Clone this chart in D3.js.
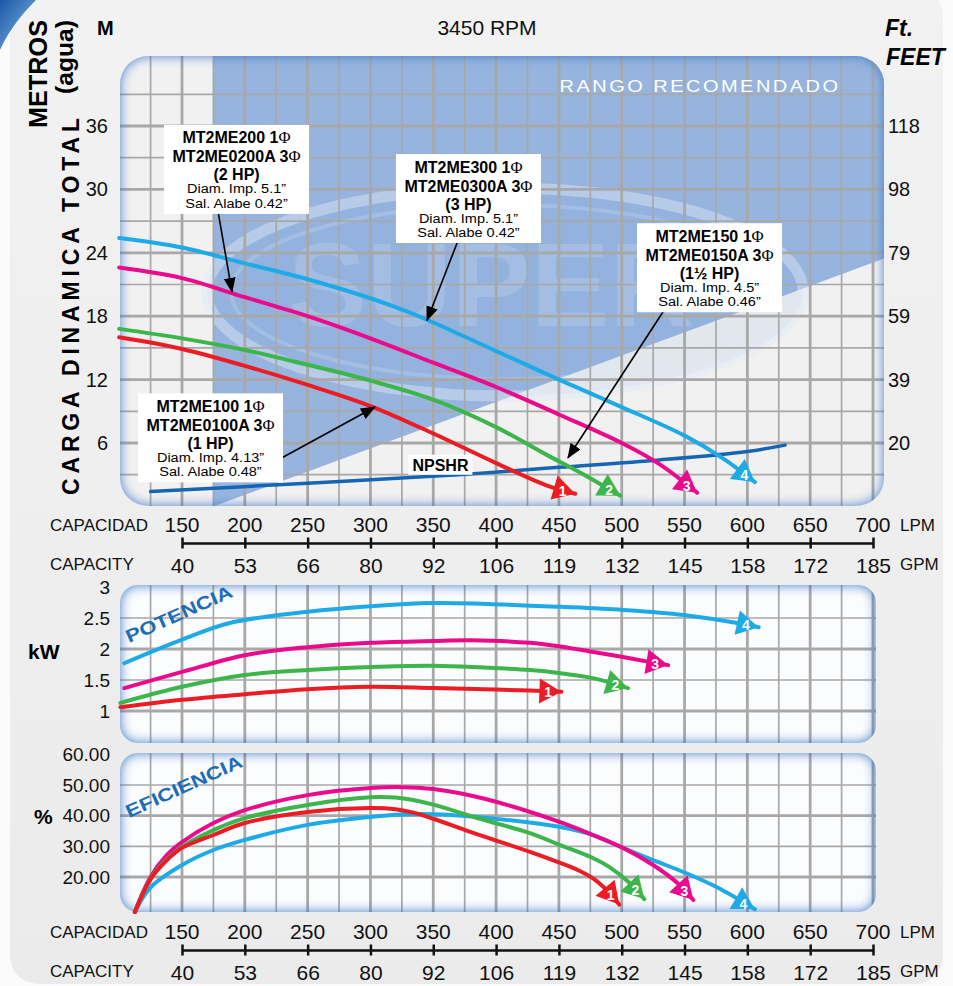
<!DOCTYPE html>
<html><head><meta charset="utf-8">
<script src="https://cdn.jsdelivr.net/npm/d3@7"></script>
<style>
body{margin:0;background:#fff}
svg{display:block}
text{font-family:"Liberation Sans",Arial,sans-serif}
</style>
</head><body>
<svg id="c" width="953" height="986"></svg>
<script>
// ---------------- DATA ----------------
const lpmTicks = [150,200,250,300,350,400,450,500,550,600,650,700];
const gpmLabels = ["40","53","66","80","92","106","119","132","145","158","172","185"];
const meterTicks = [6,12,18,24,30,36];
const feetLabels = ["20","39","59","79","98","118"];
const kwTicks = [1,1.5,2,2.5,3];
const effTicks = [20,30,40,50,60];
const curveIds = ["1","2","3","4"];

// Head (m) vs flow (LPM)
const head1 = [[100,16.0],[150,14.9],[200,13.3],[250,11.5],[300,9.5],[350,6.9],[400,4.1],[440,2.0],[463,1.2]];
const head2 = [[100,16.8],[150,15.9],[200,14.8],[250,13.4],[300,11.9],[350,10.1],[400,7.5],[440,4.9],[470,3.0],[499,1.0]];
const head3 = [[100,22.6],[150,21.6],[200,19.8],[250,18.0],[300,15.9],[350,13.6],[400,11.3],[450,8.7],[500,6.0],[530,4.0],[560,1.3]];
const head4 = [[100,25.4],[150,24.5],[200,23.0],[250,21.5],[300,19.7],[330,18.4],[350,17.4],[400,14.7],[450,12.0],[500,9.4],[550,6.7],[580,4.6],[606,2.3]];
const npshr = [[125,1.4],[250,2.2],[370,3.0],[450,3.7],[530,4.4],[600,5.2],[630,5.8]];

// Power (kW) vs flow (LPM)
const power1 = [[101,1.06],[150,1.18],[200,1.27],[250,1.35],[300,1.39],[350,1.37],[390,1.35],[427,1.33],[452,1.31]];
const power2 = [[101,1.13],[150,1.39],[200,1.58],[250,1.66],[300,1.71],[350,1.73],[390,1.70],[427,1.66],[451,1.61],[477,1.53],[505,1.37]];
const power3 = [[104,1.37],[150,1.63],[200,1.90],[250,2.03],[300,2.10],[350,2.13],[380,2.14],[427,2.10],[451,2.04],[475,1.96],[501,1.87],[525,1.78],[537,1.74]];
const power4 = [[104,1.77],[150,2.15],[188,2.42],[250,2.60],[300,2.69],[350,2.74],[388,2.73],[451,2.68],[501,2.63],[549,2.55],[600,2.39],[609,2.35]];

// Efficiency (%) vs flow (LPM)
const eff1 = [[112.5,8.6],[124.5,19.0],[138,25.5],[150,29.5],[175,33.7],[200,37.6],[250,41.2],[300,42.5],[320,42.1],[335,40.9],[350,39.0],[380,34.6],[427,28.2],[451,24.6],[465,22.3],[478,19.3],[490,14.9],[498,11.0]];
const eff2 = [[112.5,8.6],[124.5,19.2],[138,25.8],[150,29.8],[175,35.3],[200,39.2],[250,43.5],[300,46.0],[320,45.9],[335,45.0],[350,43.6],[388,38.9],[427,34.3],[451,30.4],[477,26.2],[490,23.3],[505,18.5],[518,12.8]];
const eff3 = [[112.5,8.6],[124.5,19.7],[138,27.2],[150,31.4],[175,37.6],[200,41.8],[250,46.7],[300,49.0],[325,49.3],[350,48.7],[390,45.6],[451,37.9],[477,33.7],[501,29.5],[525,23.9],[545,17.8],[557,12.5]];
const eff4 = [[112.5,8.6],[124.5,16.4],[150,23.9],[175,28.8],[200,32.1],[250,37.0],[300,39.6],[325,40.4],[350,40.5],[385,39.6],[451,36.3],[477,33.7],[501,29.5],[525,25.5],[551,21.3],[577,16.4],[606,9.5]];

// Recommended range (LPM, m)
const rangeArea = [[175,0],[712,23.6],[712,46],[175,46]];

// Annotations: box centre flow, box top head, arrow from/to (LPM, m)
const notes = [
  {lines:["MT2ME200 1","MT2ME0200A 3","(2 HP)","Diam. Imp. 5.1”","Sal. Alabe 0.42”"], cx:193.4, top:36.1, from:[178.7,27.9], to:[189.8,20.3]},
  {lines:["MT2ME300 1","MT2ME0300A 3","(3 HP)","Diam. Imp. 5.1”","Sal. Alabe 0.42”"], cx:378.0, top:33.35, from:[370.5,25.4], to:[345.0,17.6]},
  {lines:["MT2ME150 1","MT2ME0150A 3","(1½ HP)","Diam. Imp. 4.5”","Sal. Alabe 0.46”"], cx:569.9, top:26.8, from:[532.8,18.4], to:[457.2,4.6]},
  {lines:["MT2ME100 1","MT2ME0100A 3","(1 HP)","Diam. Imp. 4.13”","Sal. Alabe 0.48”"], cx:172.7, top:10.7, from:[229.6,4.6], to:[303.6,9.4]}
];
const npshrLabelAt = [355.7,3.94];

// ---------------- STYLE / LAYOUT ----------------
const colors = {"1":"#ec1c24","2":"#3cb54a","3":"#ec0a8c","4":"#1eaae7"};
const npshrColor = "#1565b3";
const gridColor = "#a8a8a8";
const numFont = '"Liberation Sans Narrow","Arial Narrow","Liberation Sans",Arial,sans-serif';

const x = d3.scaleLinear().domain([150,700]).range([182,873]);
const yH = d3.scaleLinear().domain([6,36]).range([443,126]);
const yP = d3.scaleLinear().domain([1,2.5]).range([711,618]);
const yE = d3.scaleLinear().domain([20,50]).range([877,785]);

const svg = d3.select('#c');
const defs = svg.append('defs');

const bgG = defs.append('linearGradient').attr('id','bgG').attr('x1',0).attr('y1',0).attr('x2',0).attr('y2',1);
bgG.append('stop').attr('offset',0).attr('stop-color','#f2f2f2');
bgG.append('stop').attr('offset',1).attr('stop-color','#ebebeb');
const swG = defs.append('linearGradient').attr('id','swG').attr('x1',0).attr('y1',0).attr('x2',1).attr('y2',1);
swG.append('stop').attr('offset',0).attr('stop-color','#1a58a6');
swG.append('stop').attr('offset',1).attr('stop-color','#8dbbe9');

const glow = defs.append('filter').attr('id','glow').attr('x','-10%').attr('y','-30%').attr('width','120%').attr('height','160%');
glow.append('feFlood').attr('flood-color','#3b76c6').attr('result','c');
glow.append('feComposite').attr('in','c').attr('in2','SourceAlpha').attr('operator','out').attr('result','o');
glow.append('feGaussianBlur').attr('in','o').attr('stdDeviation',6).attr('result','b');
glow.append('feComposite').attr('in','b').attr('in2','SourceAlpha').attr('operator','in');

defs.append('marker').attr('id','ah').attr('markerUnits','userSpaceOnUse')
  .attr('markerWidth',16).attr('markerHeight',12).attr('refX',14).attr('refY',6).attr('orient','auto')
  .append('path').attr('d','M0,0L15,6L0,12Z').attr('fill','#000');

svg.append('rect').attr('width',953).attr('height',986).attr('fill','#fbfbfb');
svg.append('rect').attr('x',10).attr('y',-12).attr('width',933).attr('height',996).attr('rx',28).attr('fill','url(#bgG)');
svg.append('path').attr('d','M0,0L36,0C24,12 10,28 0,50Z').attr('fill','url(#swG)');

const smooth = d3.curveCatmullRom.alpha(0.5);

function makePanel(id, p) {
  defs.append('clipPath').attr('id',id).append('rect')
    .attr('x',p.x0).attr('y',p.y0).attr('width',p.x1-p.x0).attr('height',p.y1-p.y0).attr('rx',p.r);
  const g = svg.append('g');
  g.append('rect').attr('x',p.x0).attr('y',p.y0).attr('width',p.x1-p.x0).attr('height',p.y1-p.y0)
    .attr('rx',p.r).attr('fill',p.fill);
  const inner = g.append('g').attr('clip-path',`url(#${id})`);
  return {g, inner, p};
}
function addGlow(P, op) {
  const p = P.p;
  P.g.append('rect').attr('x',p.x0).attr('y',p.y0).attr('width',p.x1-p.x0).attr('height',p.y1-p.y0)
    .attr('rx',p.r).attr('fill','#000').attr('filter','url(#glow)').attr('opacity',op);
}
function grid(P, vx, hy, ys, majorX, majorY) {
  const p = P.p;
  P.inner.selectAll(null).data(vx).join('line')
    .attr('x1',d=>x(d)).attr('x2',d=>x(d)).attr('y1',p.y0).attr('y2',p.y1)
    .attr('stroke',gridColor).attr('stroke-width',d=>majorX(d)?2.8:1.7);
  P.inner.selectAll(null).data(hy).join('line')
    .attr('y1',d=>ys(d)).attr('y2',d=>ys(d)).attr('x1',p.x0).attr('x2',p.x1)
    .attr('stroke',gridColor).attr('stroke-width',d=>majorY(d)?2.8:1.7);
}
function drawCurve(g, pts, ys, color, w) {
  g.append('path').datum(pts)
    .attr('d', d3.line().x(d=>x(d[0])).y(d=>ys(d[1])).curve(smooth))
    .attr('fill','none').attr('stroke',color).attr('stroke-width',w||4).attr('stroke-linecap','round');
}
function endMarker(g, pts, ys, color, label) {
  const n = pts.length;
  const a = [x(pts[n-2][0]), ys(pts[n-2][1])], b = [x(pts[n-1][0]), ys(pts[n-1][1])];
  let dx = b[0]-a[0], dy = b[1]-a[1]; const L = Math.hypot(dx,dy); dx/=L; dy/=L;
  const len = 22, hw = 12.5;
  const bc = [b[0]-dx*len, b[1]-dy*len];
  const p1 = [bc[0]-dy*hw, bc[1]+dx*hw], p2 = [bc[0]+dy*hw, bc[1]-dx*hw];
  g.append('path').attr('d',`M${b[0]},${b[1]}L${p1[0]},${p1[1]}L${p2[0]},${p2[1]}Z`).attr('fill',color);
  g.append('text').attr('x',b[0]-dx*len*0.6).attr('y',b[1]-dy*len*0.6+1)
    .attr('text-anchor','middle').attr('dominant-baseline','central')
    .attr('font-size',14).attr('font-weight','bold').attr('fill','#fff').text(label);
}

// ---------------- MAIN PANEL ----------------
const mainP = makePanel('clipMain', {x0:120,y0:56,x1:884,y1:506,r:28,fill:'#f1f1f2'});
mainP.inner.append('path').datum(rangeArea)
  .attr('d', d3.line().x(d=>x(d[0])).y(d=>yH(d[1])))
  .attr('fill','#97b4de');
const wm = mainP.inner.append('g');
wm.append('ellipse').attr('cx',505).attr('cy',292).attr('rx',298).attr('ry',104)
  .attr('fill','#7fa4d8').attr('fill-opacity',0.12).attr('stroke','#dfe8f6').attr('stroke-opacity',0.45).attr('stroke-width',11);
wm.append('ellipse').attr('cx',505).attr('cy',292).attr('rx',274).attr('ry',87)
  .attr('fill','none').attr('stroke','#dfe8f6').attr('stroke-opacity',0.22).attr('stroke-width',4);
wm.append('text').attr('x',288).attr('y',326).attr('font-size',118).attr('font-weight','bold')
  .attr('fill','#dfe8f6').attr('fill-opacity',0.22).text('SUPER');

grid(mainP, d3.range(125,701,25), d3.range(3,40,3), yH, d=>d%50===0, d=>d%6===0);
addGlow(mainP, 0.9);

svg.append('text').attr('x',700).attr('y',92).attr('text-anchor','middle')
  .attr('font-family','"DejaVu Sans",sans-serif').attr('font-size',16).attr('fill','#fff')
  .attr('textLength',281).attr('lengthAdjust','spacingAndGlyphs').attr('letter-spacing',2).text('RANGO RECOMENDADO');

const mg = svg.append('g');
drawCurve(mg, npshr, yH, npshrColor, 3.5);
const heads = {"1":head1,"2":head2,"3":head3,"4":head4};
["4","3","2","1"].forEach(k=>drawCurve(mg, heads[k], yH, colors[k]));
curveIds.forEach(k=>endMarker(mg, heads[k], yH, colors[k], k));

const nl = svg.append('g').attr('transform',`translate(${x(npshrLabelAt[0])},${yH(npshrLabelAt[1])})`);
nl.append('rect').attr('x',-32).attr('y',-10).attr('width',64).attr('height',20).attr('fill','#fff');
nl.append('text').attr('text-anchor','middle').attr('y',6).attr('font-size',16).attr('font-weight','bold').text('NPSHR');

const lineOff = [12.5,31.5,50,64.5,79];
notes.forEach(n=>{
  const w = 145, h = 89;
  const cx = x(n.cx), top = yH(n.top);
  svg.append('line').attr('x1',x(n.from[0])).attr('y1',yH(n.from[1])).attr('x2',x(n.to[0])).attr('y2',yH(n.to[1]))
    .attr('stroke','#000').attr('stroke-width',1.6).attr('marker-end','url(#ah)');
  const g = svg.append('g');
  g.append('rect').attr('x',cx-w/2).attr('y',top).attr('width',w).attr('height',h).attr('fill','#fff');
  n.lines.forEach((t,i)=>{
    const tx = g.append('text').attr('x',cx).attr('y',top+lineOff[i]).attr('text-anchor','middle')
      .attr('dominant-baseline','central');
    if (i<2) {
      tx.attr('font-size',16).attr('font-weight','bold');
      tx.append('tspan').text(t);
      tx.append('tspan').attr('font-family','"Liberation Serif",serif').attr('font-weight','normal').attr('font-size',16.5).text('Φ');
    } else if (i===2) {
      tx.attr('font-size',16).attr('font-weight','bold').text(t);
    } else {
      tx.attr('font-size',12.5).text(t);
      const wdt = tx.node().getComputedTextLength();
      tx.attr('textLength',wdt*1.16).attr('lengthAdjust','spacingAndGlyphs');
    }
  });
});

const axL = svg.append('g').attr('transform','translate(111,0)')
  .call(d3.axisLeft(yH).tickValues(meterTicks).tickSize(0).tickPadding(3));
const axR = svg.append('g').attr('transform','translate(885,0)')
  .call(d3.axisRight(yH).tickValues(meterTicks).tickSize(0).tickPadding(3).tickFormat((d,i)=>feetLabels[i]));
[axL,axR].forEach(a=>{a.select('.domain').remove(); a.selectAll('text').attr('font-size',20).attr('fill','#111');});

// ---------------- CAPACITY AXES ----------------
function capAxis(yLine) {
  const g = svg.append('g').attr('transform',`translate(0,${yLine})`);
  g.call(d3.axisBottom(x).tickValues(lpmTicks).tickSizeInner(5).tickSizeOuter(0).tickPadding(0).tickFormat((d,i)=>gpmLabels[i]));
  g.select('.domain').attr('stroke','#111').attr('stroke-width',2.5);
  g.selectAll('.tick line').attr('y1',-5.5).attr('y2',5.5).attr('stroke','#111').attr('stroke-width',2.5);
  g.selectAll('.tick text').attr('y',30).attr('dy',null).attr('font-size',21).attr('font-family',numFont).attr('fill','#111');
  g.selectAll(null).data(lpmTicks).join('text').attr('x',d=>x(d)).attr('y',-11)
    .attr('text-anchor','middle').attr('font-size',21).attr('font-family',numFont).attr('fill','#111').text(d=>d);
  const lab = (t,xx,yy)=>g.append('text').attr('x',xx).attr('y',yy).attr('text-anchor','start')
    .attr('font-size',17).attr('fill','#111').text(t);
  lab('CAPACIDAD',50,-12.5); lab('CAPACITY',50,26.5); lab('LPM',900,-12.5); lab('GPM',900,26.5);
}
capAxis(543);
capAxis(950);

// ---------------- POWER PANEL ----------------
const powP = makePanel('clipPow', {x0:120,y0:585,x1:876,y1:743,r:18,fill:'#fbfcfe'});
grid(powP, d3.range(125,701,25), [1,1.5,2,2.5], yP, d=>d%50===0, d=>d%1===0);
addGlow(powP, 0.95);
const pg = svg.append('g');
const powers = {"1":power1,"2":power2,"3":power3,"4":power4};
["4","3","2","1"].forEach(k=>drawCurve(pg, powers[k], yP, colors[k]));
curveIds.forEach(k=>endMarker(pg, powers[k], yP, colors[k], k));
const axP = svg.append('g').attr('transform','translate(113,0)')
  .call(d3.axisLeft(yP).tickValues(kwTicks).tickSize(0).tickPadding(3).tickFormat(d=>String(d)));
axP.select('.domain').remove();
axP.selectAll('text').attr('font-size',19).attr('fill','#111');
svg.append('text').attr('x',28).attr('y',659).attr('font-size',21).attr('font-weight','bold').text('kW');
svg.append('text').attr('transform','translate(129,643) rotate(-24)').attr('font-size',18).attr('font-weight','bold')
  .attr('fill','#1c6cb6').attr('textLength',115).attr('lengthAdjust','spacingAndGlyphs').text('POTENCIA');

// ---------------- EFFICIENCY PANEL ----------------
const effP = makePanel('clipEff', {x0:120,y0:753,x1:876,y1:912,r:18,fill:'#fbfcfe'});
grid(effP, d3.range(125,701,25), [20,30,40,50], yE, d=>d%50===0, d=>d%20===0);
addGlow(effP, 0.95);
const eg = svg.append('g');
const effs = {"1":eff1,"2":eff2,"3":eff3,"4":eff4};
["4","3","2","1"].forEach(k=>drawCurve(eg, effs[k], yE, colors[k]));
curveIds.forEach(k=>endMarker(eg, effs[k], yE, colors[k], k));
const axE = svg.append('g').attr('transform','translate(113,0)')
  .call(d3.axisLeft(yE).tickValues(effTicks).tickSize(0).tickPadding(3).tickFormat(d=>d.toFixed(2)));
axE.select('.domain').remove();
axE.selectAll('text').attr('font-size',19).attr('fill','#111');
svg.append('text').attr('x',34).attr('y',824).attr('font-size',21).attr('font-weight','bold').text('%');
svg.append('text').attr('transform','translate(129,818) rotate(-24.3)').attr('font-size',18).attr('font-weight','bold')
  .attr('fill','#1c6cb6').attr('textLength',126).attr('lengthAdjust','spacingAndGlyphs').text('EFICIENCIA');

// ---------------- TITLES ----------------
svg.append('text').attr('x',487).attr('y',35).attr('text-anchor','middle').attr('font-size',21).attr('fill','#111').text('3450 RPM');
svg.append('text').attr('x',97).attr('y',35).attr('font-size',20).attr('font-weight','bold').text('M');
svg.append('text').attr('x',885).attr('y',36).attr('font-size',23).attr('font-weight','bold').attr('font-style','italic').text('Ft.');
svg.append('text').attr('x',886).attr('y',65).attr('font-size',23).attr('font-weight','bold').attr('font-style','italic').text('FEET');
svg.append('text').attr('transform','translate(47,128) rotate(-90)').attr('font-size',25).attr('font-weight','bold')
  .attr('textLength',108).attr('lengthAdjust','spacingAndGlyphs').text('METROS');
svg.append('text').attr('transform','translate(73,94) rotate(-90)').attr('font-size',23).attr('font-weight','bold')
  .attr('textLength',74).attr('lengthAdjust','spacingAndGlyphs').text('(agua)');
svg.append('text').attr('transform','translate(79,495) rotate(-90)').attr('font-size',23).attr('font-weight','bold')
  .attr('textLength',377).attr('lengthAdjust','spacing').text('CARGA DINAMICA TOTAL');
</script>
</body></html>
